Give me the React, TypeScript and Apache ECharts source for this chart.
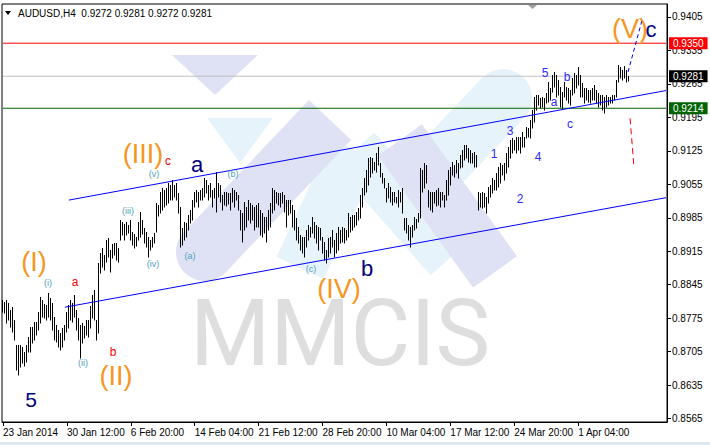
import React, { useEffect, useRef } from "react";
import * as echarts from "echarts";

// ---------- data ----------
const symbolTitle = "AUDUSD,H4  0.9272 0.9281 0.9272 0.9281";
const timeTickLabels = [
  "23 Jan 2014", "30 Jan 12:00", "6 Feb 20:00", "14 Feb 04:00", "21 Feb 12:00",
  "28 Feb 20:00", "10 Mar 04:00", "17 Mar 12:00", "24 Mar 20:00", "1 Apr 04:00",
];
const barsPerTimeLabel = 32;
const slotCount = 333;
const priceTicks = [0.8565, 0.8635, 0.8705, 0.8775, 0.8845, 0.8915, 0.8985, 0.9055, 0.9125, 0.9195, 0.9265, 0.9335, 0.9405];

const highs = [
  0.8813, 0.8809, 0.8813, 0.8807, 0.8792, 0.8798, 0.8771, 0.8719, 0.8719, 0.8719,
  0.8714, 0.8704, 0.8719, 0.8735, 0.8756, 0.8756, 0.8767, 0.8767, 0.8788, 0.8819,
  0.8813, 0.8805, 0.8803, 0.8828, 0.8817, 0.8807, 0.8777, 0.8761, 0.8750, 0.8744,
  0.8754, 0.8761, 0.8788, 0.8803, 0.8813, 0.8807, 0.8824, 0.8792, 0.8775, 0.8761,
  0.8765, 0.8758, 0.8771, 0.8771, 0.8800, 0.8824, 0.8834, 0.8771, 0.8891, 0.8911,
  0.8921, 0.8907, 0.8938, 0.8942, 0.8917, 0.8930, 0.8932, 0.8932, 0.8921, 0.8980,
  0.8976, 0.8972, 0.8976, 0.8970, 0.8980, 0.8955, 0.8951, 0.8944, 0.8976, 0.8997,
  0.8980, 0.8963, 0.8955, 0.8944, 0.8938, 0.8944, 0.8953, 0.9016, 0.9012, 0.9039,
  0.9047, 0.9043, 0.9047, 0.9058, 0.9054, 0.9064, 0.9054, 0.9058, 0.9037, 0.9007,
  0.8963, 0.8976, 0.8974, 0.8991, 0.9001, 0.9022, 0.9039, 0.9043, 0.9039, 0.9043,
  0.9047, 0.9068, 0.9064, 0.9054, 0.9058, 0.9043, 0.9047, 0.9081, 0.9058, 0.9054,
  0.9033, 0.9039, 0.9039, 0.9037, 0.9037, 0.9047, 0.9043, 0.9039, 0.9033, 0.9001,
  0.8995, 0.9018, 0.9007, 0.9022, 0.9016, 0.9012, 0.9007, 0.9012, 0.9016, 0.9001,
  0.8995, 0.8986, 0.8986, 0.9001, 0.9016, 0.9047, 0.9043, 0.9039, 0.9037, 0.9037,
  0.9039, 0.9033, 0.9022, 0.9022, 0.9022, 0.9012, 0.9001, 0.8984, 0.8965, 0.8949,
  0.8944, 0.8944, 0.8959, 0.8970, 0.8965, 0.8986, 0.8976, 0.8970, 0.8965, 0.8963,
  0.8944, 0.8934, 0.8917, 0.8942, 0.8944, 0.8959, 0.8938, 0.8953, 0.8965, 0.8959,
  0.8965, 0.8963, 0.8959, 0.8995, 0.8986, 0.8991, 0.8991, 0.8997, 0.9005, 0.9033,
  0.9047, 0.9068, 0.9085, 0.9110, 0.9112, 0.9110, 0.9102, 0.9120, 0.9132, 0.9100,
  0.9079, 0.9068, 0.9047, 0.9058, 0.9049, 0.9039, 0.9039, 0.9028, 0.9043, 0.9039,
  0.9047, 0.8984, 0.8984, 0.8970, 0.8965, 0.8970, 0.8986, 0.8982, 0.8995, 0.9089,
  0.9085, 0.9100, 0.9096, 0.9043, 0.9039, 0.9039, 0.9039, 0.9043, 0.9047, 0.9039,
  0.9039, 0.9033, 0.9064, 0.9085, 0.9091, 0.9102, 0.9096, 0.9106, 0.9100, 0.9116,
  0.9126, 0.9137, 0.9137, 0.9130, 0.9126, 0.9120, 0.9122, 0.9116, 0.9039, 0.9037,
  0.9039, 0.9037, 0.9028, 0.9049, 0.9054, 0.9068, 0.9064, 0.9079, 0.9091, 0.9100,
  0.9096, 0.9100, 0.9120, 0.9132, 0.9147, 0.9151, 0.9147, 0.9153, 0.9153, 0.9153,
  0.9164, 0.9153, 0.9174, 0.9172, 0.9189, 0.9210, 0.9237, 0.9241, 0.9241, 0.9235,
  0.9237, 0.9235, 0.9246, 0.9269, 0.9256, 0.9283, 0.9290, 0.9283, 0.9273, 0.9258,
  0.9248, 0.9269, 0.9258, 0.9256, 0.9252, 0.9277, 0.9288, 0.9283, 0.9300, 0.9283,
  0.9267, 0.9256, 0.9256, 0.9252, 0.9252, 0.9256, 0.9262, 0.9252, 0.9246, 0.9241,
  0.9241, 0.9237, 0.9241, 0.9237, 0.9237, 0.9241, 0.9241, 0.9273, 0.9305, 0.9300,
  0.9294, 0.9302, 0.9294, 0.9281,
];

const lows = [
  0.8788, 0.8786, 0.8765, 0.8771, 0.8756, 0.8746, 0.8729, 0.8667, 0.8657, 0.8673,
  0.8682, 0.8675, 0.8684, 0.8704, 0.8704, 0.8723, 0.8729, 0.8740, 0.8750, 0.8765,
  0.8777, 0.8775, 0.8771, 0.8777, 0.8771, 0.8750, 0.8729, 0.8725, 0.8714, 0.8708,
  0.8714, 0.8729, 0.8746, 0.8754, 0.8771, 0.8767, 0.8777, 0.8750, 0.8729, 0.8691,
  0.8723, 0.8733, 0.8740, 0.8735, 0.8754, 0.8775, 0.8771, 0.8729, 0.8744, 0.8870,
  0.8882, 0.8876, 0.8893, 0.8902, 0.8872, 0.8900, 0.8907, 0.8897, 0.8893, 0.8938,
  0.8949, 0.8938, 0.8949, 0.8953, 0.8938, 0.8928, 0.8921, 0.8925, 0.8938, 0.8944,
  0.8951, 0.8932, 0.8923, 0.8904, 0.8917, 0.8923, 0.8932, 0.8955, 0.8988, 0.8995,
  0.9001, 0.9007, 0.9012, 0.9016, 0.9022, 0.9022, 0.9028, 0.9022, 0.8995, 0.8923,
  0.8928, 0.8938, 0.8944, 0.8959, 0.8974, 0.8980, 0.9007, 0.9018, 0.9007, 0.9022,
  0.9022, 0.9028, 0.9037, 0.9022, 0.9028, 0.9007, 0.9026, 0.8997, 0.9028, 0.9018,
  0.9001, 0.9012, 0.9009, 0.9014, 0.9001, 0.9018, 0.9007, 0.9022, 0.9001, 0.8959,
  0.8934, 0.8959, 0.8965, 0.8980, 0.8974, 0.8980, 0.8959, 0.8965, 0.8965, 0.8949,
  0.8944, 0.8953, 0.8934, 0.8959, 0.8965, 0.8995, 0.9001, 0.9016, 0.9012, 0.9007,
  0.9016, 0.8997, 0.8965, 0.8991, 0.8995, 0.8965, 0.8959, 0.8938, 0.8932, 0.8917,
  0.8911, 0.8902, 0.8923, 0.8938, 0.8944, 0.8953, 0.8942, 0.8932, 0.8917, 0.8938,
  0.8911, 0.8897, 0.8891, 0.8902, 0.8911, 0.8923, 0.8902, 0.8911, 0.8917, 0.8932,
  0.8934, 0.8932, 0.8938, 0.8944, 0.8955, 0.8959, 0.8965, 0.8970, 0.8980, 0.8984,
  0.9007, 0.9033, 0.9039, 0.9054, 0.9070, 0.9079, 0.9085, 0.9081, 0.9096, 0.9070,
  0.9058, 0.9047, 0.9018, 0.9026, 0.9018, 0.9012, 0.9018, 0.9016, 0.9007, 0.9018,
  0.8995, 0.8959, 0.8953, 0.8938, 0.8923, 0.8944, 0.8959, 0.8963, 0.8976, 0.8984,
  0.9039, 0.9047, 0.9058, 0.9007, 0.9001, 0.8997, 0.9016, 0.9009, 0.9012, 0.9007,
  0.9022, 0.9007, 0.9022, 0.9033, 0.9054, 0.9075, 0.9070, 0.9079, 0.9068, 0.9089,
  0.9091, 0.9106, 0.9110, 0.9102, 0.9100, 0.9100, 0.9091, 0.9091, 0.9001, 0.9007,
  0.9005, 0.9007, 0.8995, 0.9016, 0.9028, 0.9037, 0.9043, 0.9043, 0.9049, 0.9058,
  0.9075, 0.9064, 0.9079, 0.9091, 0.9110, 0.9120, 0.9126, 0.9120, 0.9126, 0.9120,
  0.9132, 0.9132, 0.9151, 0.9153, 0.9151, 0.9172, 0.9185, 0.9210, 0.9221, 0.9214,
  0.9216, 0.9210, 0.9225, 0.9227, 0.9231, 0.9248, 0.9258, 0.9237, 0.9241, 0.9216,
  0.9214, 0.9237, 0.9231, 0.9225, 0.9221, 0.9241, 0.9246, 0.9256, 0.9262, 0.9237,
  0.9237, 0.9225, 0.9231, 0.9227, 0.9225, 0.9231, 0.9231, 0.9225, 0.9216, 0.9221,
  0.9210, 0.9204, 0.9216, 0.9221, 0.9225, 0.9225, 0.9231, 0.9237, 0.9269, 0.9277,
  0.9273, 0.9277, 0.9269, 0.9272,
];

// horizontal price levels: resistance (red), bid (grey), support (green)
const levelPrices = [0.935, 0.9281, 0.9214];
const levelLabels = ["0.9350", "0.9281", "0.9214"];

// trend channel and projections: [bar index, price]
const upperChannel = [[33, 0.9022], [332, 0.9251]];
const lowerChannel = [[31, 0.8798], [332, 0.9027]];
const waveProjection = [[313, 0.929], [320, 0.9398]];
const correctionMark = [[314, 0.9193], [316, 0.9089]];

// ---------- presentation ----------
const FONT = "Liberation Sans, Arial, sans-serif";
const ORANGE = "#F7961E";
const NAVY = "#000080";
const WAVE_BLUE = "#2b2bff";
const TEAL = "#4f9ec0";

type Ann = [string, number, number, string, number];
const annotations: Ann[] = [
  ["(I)", 34, 262, ORANGE, 27],
  ["(II)", 116, 376, ORANGE, 27],
  ["(III)", 143, 154, ORANGE, 27],
  ["(IV)", 339, 289, ORANGE, 27],
  ["(V)", 630, 29, ORANGE, 27],
  ["5", 31, 399, NAVY, 21],
  ["a", 197, 164, NAVY, 22],
  ["b", 367, 268, NAVY, 22],
  ["c", 651, 29, NAVY, 22],
  ["a", 75, 282, "#ff0000", 12],
  ["b", 113, 352, "#ff0000", 12],
  ["c", 168, 161, "#ff0000", 12],
  ["(i)", 48, 283, TEAL, 9],
  ["(ii)", 83, 363, TEAL, 9],
  ["(iii)", 128, 211, TEAL, 9],
  ["(iv)", 153, 264, TEAL, 9],
  ["(v)", 154, 174, TEAL, 9],
  ["(a)", 190, 256, TEAL, 9],
  ["(b)", 233, 174, TEAL, 9],
  ["(c)", 311, 269, TEAL, 9],
  ["1", 494, 154, WAVE_BLUE, 12],
  ["2", 520, 199, WAVE_BLUE, 12],
  ["3", 510, 131, WAVE_BLUE, 12],
  ["4", 538, 157, WAVE_BLUE, 12],
  ["5", 545, 73, WAVE_BLUE, 12],
  ["a", 554, 102, WAVE_BLUE, 12],
  ["b", 567, 77, WAVE_BLUE, 12],
  ["c", 570, 124, WAVE_BLUE, 12],
];

const LAV = "#dfe2f4";
const LBLUE = "#e7f3fa";

function band(x1: number, y1: number, x2: number, y2: number, w: number, fill: string, roundStart: boolean, roundEnd: boolean) {
  const dx = x2 - x1, dy = y2 - y1;
  const len = Math.hypot(dx, dy);
  const nx = (-dy / len) * (w / 2), ny = (dx / len) * (w / 2);
  const els: any[] = [
    {
      type: "polygon",
      z: 1,
      shape: { points: [[x1 + nx, y1 + ny], [x2 + nx, y2 + ny], [x2 - nx, y2 - ny], [x1 - nx, y1 - ny]] },
      style: { fill },
      silent: true,
    },
  ];
  if (roundStart) els.push({ type: "circle", z: 1, shape: { cx: x1, cy: y1, r: w / 2 }, style: { fill }, silent: true });
  if (roundEnd) els.push({ type: "circle", z: 1, shape: { cx: x2, cy: y2, r: w / 2 }, style: { fill }, silent: true });
  return els;
}

export default function App() {
  const ref = useRef<HTMLDivElement>(null);

  useEffect(() => {
    if (!ref.current) return;
    const chart = echarts.init(ref.current, null, { renderer: "svg" });

    const categories = Array.from({ length: slotCount }, (_, i) => String(i));
    const bars = highs.map((h, i) => [i, lows[i], h]);

    const labelIdx = (i: number) => i % barsPerTimeLabel === 0 && i / barsPerTimeLabel < timeTickLabels.length;

    const levelColors = ["#ff0000", "#c0c0c0", "#006400"];
    const levelBoxes = ["#ff0000", "#000000", "#006400"];

    const watermark: any[] = [
      // light blue shapes
      ...band(300, 268, 355, 150, 52, LBLUE, false, false),
      ...band(355, 150, 450, 258, 52, LBLUE, false, false),
      ...band(395, 212, 503, 98, 58, LBLUE, false, true),
      { type: "polygon", z: 1, silent: true, shape: { points: [[207, 118], [273, 118], [240, 163]] }, style: { fill: LBLUE } },
      // lavender shapes
      ...band(205, 252, 330, 120, 58, LAV, true, false),
      { type: "polygon", z: 1, silent: true, shape: { points: [[172, 55], [258, 55], [215, 95]] }, style: { fill: LAV } },
      ...band(400, 140, 495, 272, 54, LAV, false, false),
      {
        type: "text", z: 1, silent: true, x: 340, y: 333,
        style: { text: "MMCIS", font: "normal 92px Roboto, sans-serif", fill: "#dedede", textAlign: "center", textVerticalAlign: "middle" },
      },
    ];

    const texts = annotations.map(([t, x, y, c, s]) => ({
      type: "text",
      z: 100,
      silent: true,
      x, y,
      style: { text: t, fill: c, font: `normal ${s}px ${FONT}`, textAlign: "center", textVerticalAlign: "middle" },
    }));

    const levelSeries = levelPrices.map((p, k) => ({
      type: "line",
      name: "level " + levelLabels[k],
      data: [[0, p], [slotCount - 1, p]],
      symbol: "none",
      z: 4,
      lineStyle: { color: levelColors[k], width: 1, type: "solid" },
      itemStyle: { color: levelColors[k] },
      endLabel: {
        show: true,
        formatter: levelLabels[k],
        distance: 3,
        color: "#fff",
        backgroundColor: levelBoxes[k],
        padding: [1, 4, 1, 4],
        fontFamily: FONT,
        fontSize: 10,
      },
    }));

    const option: any = {
      animation: false,
      backgroundColor: "#ffffff",
      grid: { left: 1, top: 4, width: 666, height: 418, show: true, borderColor: "#000", borderWidth: 1, backgroundColor: "transparent" },
      xAxis: {
        type: "category",
        data: categories,
        boundaryGap: true,
        axisLine: { show: true, lineStyle: { color: "#000", width: 1 } },
        axisTick: { show: true, interval: (i: number) => labelIdx(i), alignWithLabel: true, length: 4, lineStyle: { color: "#000" } },
        axisLabel: {
          show: true,
          interval: (i: number) => labelIdx(i),
          formatter: (_v: string, i: number) => timeTickLabels[i / barsPerTimeLabel] ?? "",
          align: "left",
          margin: 5,
          color: "#000",
          fontFamily: FONT,
          fontSize: 10,
          hideOverlap: false,
        },
        splitLine: { show: false },
      },
      yAxis: {
        type: "value",
        position: "right",
        min: 0.8558,
        max: 0.9432,
        scale: true,
        axisLine: { show: true, onZero: false, lineStyle: { color: "#000" } },
        axisTick: { show: true, customValues: priceTicks, length: 4, lineStyle: { color: "#000" } },
        axisLabel: {
          show: true,
          customValues: priceTicks,
          formatter: (v: number) => v.toFixed(4),
          color: "#000",
          fontFamily: FONT,
          fontSize: 10,
          margin: 5,
        },
        splitLine: { show: false },
      },
      graphic: [
        ...watermark,
        { type: "rect", z: 0, silent: true, shape: { x: 0, y: 442, width: 710, height: 3 }, style: { fill: "#dde7f2" } },
        { type: "polygon", z: 50, silent: true, shape: { points: [[5, 11], [11, 11], [8, 15]] }, style: { fill: "#000" } },
        { type: "text", z: 50, silent: true, x: 18, y: 13, style: { text: symbolTitle, fill: "#000", font: `normal 10px ${FONT}`, textVerticalAlign: "middle" } },
        { type: "polygon", z: 50, silent: true, shape: { points: [[528, 5], [537, 5], [532.5, 9]] }, style: { fill: "#a0a0a0" } },
        ...texts,
      ],
      series: [
        ...levelSeries,
        {
          type: "custom",
          name: "AUDUSD",
          data: bars,
          encode: { x: 0, y: [1, 2] },
          z: 5,
          renderItem: (_p: any, api: any) => {
            const idx = api.value(0);
            const lo = api.coord([idx, api.value(1)]);
            const hi = api.coord([idx, api.value(2)]);
            const x = Math.floor(lo[0]) + 0.5;
            return {
              type: "line",
              shape: { x1: x, y1: Math.round(lo[1]) + 0.5, x2: x, y2: Math.round(hi[1]) },
              style: { stroke: "#000", lineWidth: 1 },
            };
          },
        },
        {
          type: "line", name: "upper channel", data: upperChannel, symbol: "none", z: 6,
          lineStyle: { color: "#0000ff", width: 1 },
        },
        {
          type: "line", name: "lower channel", data: lowerChannel, symbol: "none", z: 6,
          lineStyle: { color: "#0000ff", width: 1 },
        },
        {
          type: "line", name: "projection", data: waveProjection, symbol: "none", z: 6,
          lineStyle: { color: "#0000ff", width: 1, type: [4, 3] },
        },
        {
          type: "line", name: "correction", data: correctionMark, symbol: "none", z: 6,
          lineStyle: { color: "#ff0000", width: 1, type: [6, 4] },
        },
      ],
    };

    chart.setOption(option);
    return () => chart.dispose();
  }, []);

  return <div ref={ref} style={{ position: "fixed", left: 0, top: 0, width: 710, height: 445 }} />;
}
